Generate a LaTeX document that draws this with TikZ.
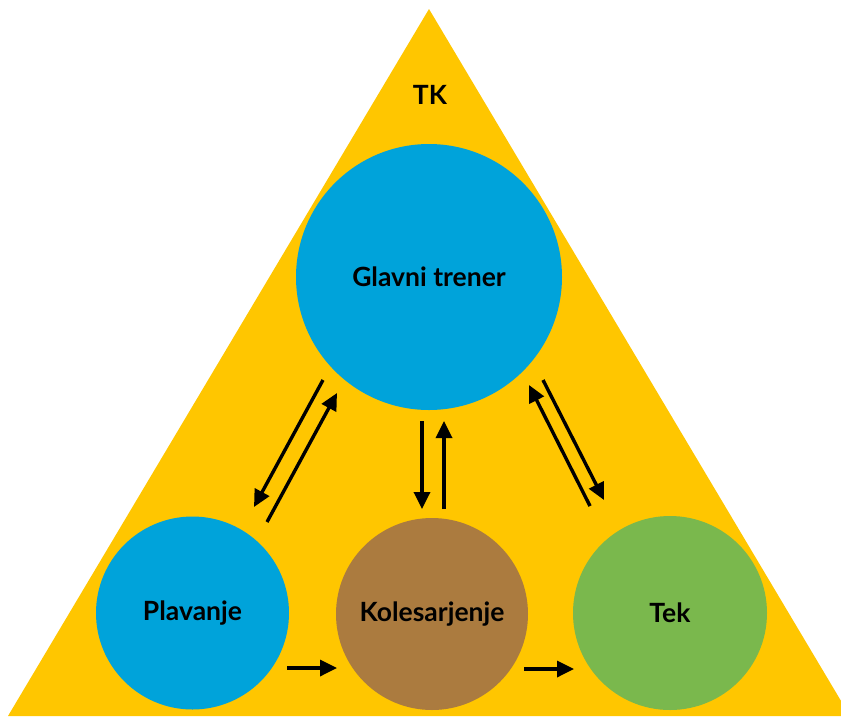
\documentclass[tikz,border=0pt]{standalone}
\usepackage{fontspec}
\setmainfont{Lato}
\usetikzlibrary{arrows.meta}
\definecolor{tkyellow}{RGB}{255,198,0}
\definecolor{tkblue}{RGB}{0,163,218}
\definecolor{tkbrown}{RGB}{171,123,63}
\definecolor{tkgreen}{RGB}{122,184,77}
\tikzset{
  circ/.style={circle, inner sep=0pt, font=\bfseries\fontsize{26.5}{30}\selectfont, text=black},
  arr/.style={line width=3.4pt, -{Triangle[length=17pt,width=16pt]}}
}
\begin{document}
\begin{tikzpicture}[x=1pt,y=-1pt]
\useasboundingbox (0,0) rectangle (841,716);
\clip (0,0) rectangle (841,716);
\fill[white] (0,0) rectangle (841,716);
\fill[tkyellow] (429,9) -- (8,716) -- (850,716) -- cycle;
\node[font=\bfseries\fontsize{26.5}{30}\selectfont] (tk) at (430,95) {TK};
\node[circ, fill=tkblue, minimum size=266pt] (gt) at (429,277) {Glavni trener};
\node[circ, fill=tkblue, minimum size=193pt] (pl) at (192.5,613) {Plavanje};
\node[circ, fill=tkbrown, minimum size=192pt] (ko) at (432,614) {Kolesarjenje};
\node[circ, fill=tkgreen, minimum size=194pt] (te) at (670,613) {Tek};
% connector end points
\coordinate (a1s) at (323,380); \coordinate (a1e) at (254,507);
\coordinate (a2s) at (267,522); \coordinate (a2e) at (337,393);
\coordinate (b1s) at (422,421); \coordinate (b1e) at (422,509);
\coordinate (b2s) at (444,509); \coordinate (b2e) at (444,421);
\coordinate (c1s) at (543,380); \coordinate (c1e) at (604,500);
\coordinate (c2s) at (590,506); \coordinate (c2e) at (529,385);
\coordinate (d1s) at (287,668); \coordinate (d1e) at (337,668);
\coordinate (d2s) at (524,669); \coordinate (d2e) at (574,669);
\draw[arr] (a1s) -- (a1e);
\draw[arr] (a2s) -- (a2e);
\draw[arr] (b1s) -- (b1e);
\draw[arr] (b2s) -- (b2e);
\draw[arr] (c1s) -- (c1e);
\draw[arr] (c2s) -- (c2e);
\draw[arr] (d1s) -- (d1e);
\draw[arr] (d2s) -- (d2e);
\end{tikzpicture}
\end{document}
